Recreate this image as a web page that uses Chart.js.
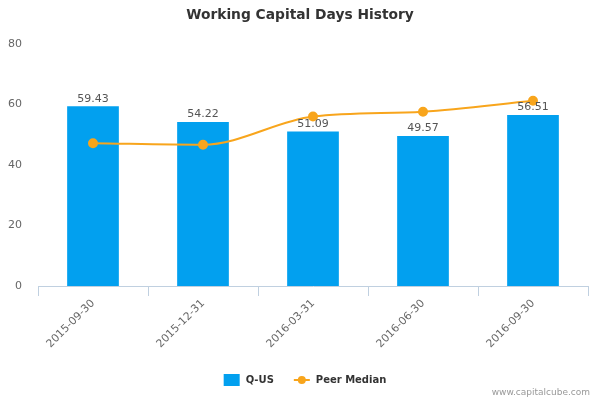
<!DOCTYPE html>
<html>
<head>
<meta charset="utf-8">
<script src="https://cdn.jsdelivr.net/npm/chart.js@4"></script>
<style>
  html, body { margin: 0; padding: 0; background: #fff; }
  #wrap { width: 600px; height: 400px; }
</style>
</head>
<body>
<div id="wrap"><canvas id="wcChart"></canvas></div>
<script>
// Working capital days per quarter
const quarters = ['2015-09-30', '2015-12-31', '2016-03-31', '2016-06-30', '2016-09-30'];
const companyDays = [59.43, 54.22, 51.09, 49.57, 56.51];
const peerMedian = [47.2, 46.7, 56.0, 57.6, 61.2];
const yTicks = [0, 20, 40, 60, 80];

const BLUE = '#02a0ef';
const ORANGE = '#f8a51c';
const FONT = '"DejaVu Sans", Verdana, sans-serif';

// value labels above the bars
const barLabels = {
  id: 'barLabels',
  afterLayout(chart) {
    // centre the title on the whole canvas, not on the padded box
    if (chart.titleBlock) chart.titleBlock.right += 12;
  },
  afterDatasetsDraw(chart) {
    const ctx = chart.ctx;
    const meta = chart.getDatasetMeta(1);
    ctx.save();
    ctx.font = '11px ' + FONT;
    ctx.fillStyle = '#555';
    ctx.textAlign = 'center';
    ctx.textBaseline = 'bottom';
    meta.data.forEach(function (bar, i) {
      ctx.fillText(companyDays[i].toFixed(2), bar.x, bar.y - 2);
    });
    ctx.restore();
  },
};

// custom legend + credit line at the bottom
const footer = {
  id: 'footer',
  afterDraw(chart) {
    const ctx = chart.ctx;
    const cy = 380;
    ctx.save();
    ctx.font = 'bold 10px ' + FONT;
    ctx.textBaseline = 'middle';
    ctx.textAlign = 'left';
    const w1 = ctx.measureText('Q-US').width;
    const w2 = ctx.measureText('Peer Median').width;
    const total = 16 + 6 + w1 + 20 + 16 + 6 + w2;
    let x = 300 - total / 2 + 5;
    ctx.fillStyle = BLUE;
    ctx.fillRect(x, cy - 6, 16, 12);
    x += 22;
    ctx.fillStyle = '#333';
    ctx.fillText('Q-US', x, cy);
    x += w1 + 20;
    ctx.strokeStyle = ORANGE;
    ctx.lineWidth = 2;
    ctx.beginPath();
    ctx.moveTo(x, cy);
    ctx.lineTo(x + 16, cy);
    ctx.stroke();
    ctx.fillStyle = ORANGE;
    ctx.beginPath();
    ctx.arc(x + 8, cy, 4, 0, Math.PI * 2);
    ctx.fill();
    x += 22;
    ctx.fillStyle = '#333';
    ctx.fillText('Peer Median', x, cy);

    ctx.font = '9px ' + FONT;
    ctx.fillStyle = '#999';
    ctx.textAlign = 'right';
    ctx.fillText('www.capitalcube.com', 590, 393);
    ctx.restore();
  },
};

new Chart(document.getElementById('wcChart').getContext('2d'), {
  data: {
    labels: quarters,
    datasets: [
      {
        type: 'line',
        label: 'Peer Median',
        data: peerMedian,
        borderColor: ORANGE,
        backgroundColor: ORANGE,
        borderWidth: 2,
        pointRadius: 4,
        pointHoverRadius: 4,
        cubicInterpolationMode: 'monotone',
        order: 0,
      },
      {
        type: 'bar',
        label: 'Q-US',
        data: companyDays,
        backgroundColor: BLUE,
        barPercentage: 0.47,
        categoryPercentage: 1,
        order: 1,
      },
    ],
  },
  options: {
    responsive: true,
    maintainAspectRatio: false,
    animation: false,
    layout: { padding: { top: 0, left: 0, right: 12, bottom: 40 } },
    plugins: {
      legend: { display: false },
      tooltip: { enabled: false },
      title: {
        display: true,
        text: 'Working Capital Days History',
        color: '#333',
        font: { family: FONT, size: 13.8, weight: 'bold' },
        padding: { top: 7, bottom: 20.4 },
      },
    },
    scales: {
      x: {
        offset: true,
        grid: {
          display: true,
          offset: true,
          drawOnChartArea: false,
          drawTicks: true,
          tickLength: 10,
          color: '#c0d0e0',
        },
        border: { display: true, color: '#c0d0e0' },
        ticks: {
          color: '#666',
          font: { family: FONT, size: 10.8 },
          minRotation: 45,
          maxRotation: 45,
          padding: 1,
        },
        afterFit: function (scale) {
          scale.height = 74;
        },
      },
      y: {
        min: 0,
        max: 80,
        grid: { display: false, drawTicks: false },
        border: { display: false },
        afterBuildTicks: function (scale) {
          scale.ticks = yTicks.map((v) => ({ value: v }));
        },
        ticks: {
          color: '#666',
          font: { family: FONT, size: 11 },
          padding: 16,
        },
        afterFit: function (scale) {
          scale.width = 38;
        },
      },
    },
  },
  plugins: [barLabels, footer],
});
</script>
</body>
</html>
